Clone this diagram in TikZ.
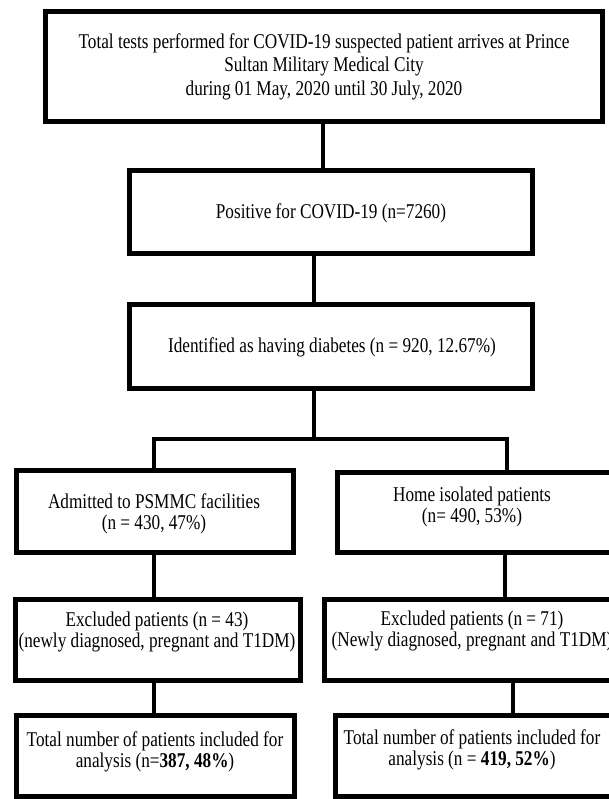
\documentclass[tikz,border=0pt]{standalone}
\usepackage{fontspec}
\setmainfont{Liberation Serif}[FakeStretch=0.82]
\usetikzlibrary{calc}
\tikzset{
  box/.style={draw, line width=5pt, inner sep=0pt},
  txt/.style={align=center, inner sep=0pt, font=\fontsize{21}{21.5}\selectfont},
  link/.style={line width=4.5pt}
}
\begin{document}
\begin{tikzpicture}[x=1pt,y=-1pt]
		\useasboundingbox (0,0) rectangle (609,799);
		\clip (0,0) rectangle (609,799);
		% Kasten oben
		\node[box, minimum width=557pt, minimum height=110pt] (total) at (324,66.5) {};
		\node[txt, font=\fontsize{21}{23.5}\selectfont] (totaltxt) at (324,66.5) {Total tests performed for COVID-19 suspected patient arrives at Prince\\Sultan Military Medical City\\during 01 May, 2020 until 30 July, 2020};
		% positiv
		\node[box, minimum width=403pt, minimum height=83pt] (positive) at (331,212) {};
		\node[txt] (positivetxt) at (331,213) {Positive for COVID-19 (n=7260)};
		% Diabetes
		\node[box, minimum width=403pt, minimum height=84pt] (diabetes) at (331,346.5) {};
		\node[txt] (diabetestxt) at (332,347) {Identified as having diabetes (n = 920, 12.67\%)};
		% links
		\node[box, minimum width=277pt, minimum height=82pt] (admitted) at (155,511.5) {};
		\node[txt] (admittedtxt) at (154,514) {Admitted to PSMMC facilities\\(n = 430, 47\%)};
		\node[box, minimum width=285pt, minimum height=81pt] (exclL) at (158,640) {};
		\node[txt] (exclLtxt) at (157,632) {Excluded patients (n = 43)\\(newly diagnosed, pregnant and T1DM)};
		\node[box, minimum width=278pt, minimum height=81pt] (inclL) at (155.5,756) {};
		\node[txt] (inclLtxt) at (155,752) {Total number of patients included for\\analysis (n=\textbf{387, 48\%})};
		% rechts
		\node[box, minimum width=274pt, minimum height=80pt] (home) at (474.5,512.5) {};
		\node[txt] (hometxt) at (472,507) {Home isolated patients\\(n= 490, 53\%)};
		\node[box, minimum width=297pt, minimum height=81pt] (exclR) at (473,640) {};
		\node[txt] (exclRtxt) at (472,631) {Excluded patients (n = 71)\\(Newly diagnosed, pregnant and T1DM)};
		\node[box, minimum width=276pt, minimum height=81pt] (inclR) at (473.5,756) {};
		\node[txt] (inclRtxt) at (472,750) {Total number of patients included for\\analysis (n = \textbf{419, 52\%})};
		% Linien
		\coordinate (split) at (314,439);
		\draw[link] ($(total.south)+(-1,0)$) -- ($(positive.north)+(-8,0)$);
		\draw[link] ($(positive.south)+(-17,0)$) -- ($(diabetes.north)+(-17,0)$);
		\draw[link] ($(diabetes.south)+(-17,0)$) -- (split);
		\draw[link] ($(admitted.north)+(-1,0)$) |- (split) -| ($(home.north)+(32.5,0)$);
		\draw[link] ($(admitted.south)+(-1,0)$) -- ($(exclL.north)+(-4,0)$);
		\draw[link] ($(home.south)+(30.5,0)$) -- ($(exclR.north)+(32,0)$);
		\draw[link] ($(exclL.south)+(-4,0)$) -- ($(inclL.north)+(-1.5,0)$);
		\draw[link] ($(exclR.south)+(40,0)$) -- ($(inclR.north)+(39.5,0)$);
\end{tikzpicture}
\end{document}
